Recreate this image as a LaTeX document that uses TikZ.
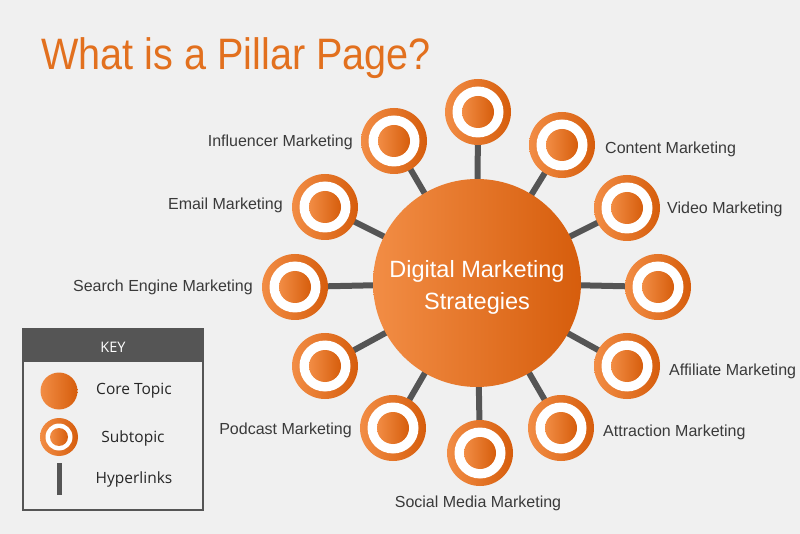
\documentclass[tikz,border=0pt]{standalone}
\usepackage{fontspec}
\setmainfont{Liberation Sans}
\newfontfamily\keyfont{Open Sans}
\usetikzlibrary{backgrounds}
\definecolor{bg}{HTML}{F0F0F0}
\definecolor{orL}{HTML}{F28D45}
\definecolor{orD}{HTML}{D65D0C}
\definecolor{orT}{HTML}{E2701E}
\definecolor{lnk}{HTML}{555555}
\definecolor{txt}{HTML}{3A3A3A}
\begin{document}
\begin{tikzpicture}[x=1pt,y=-1pt,
  core/.style={circle, minimum size=208pt, inner sep=0pt, left color=orL, right color=orD},
  coretext/.style={text=white, align=center, inner sep=0pt, yshift=-4pt,
    font=\fontsize{23.5}{32}\selectfont},
  sub/.style={circle, minimum size=66pt, inner sep=0pt, left color=orL, right color=orD,
    path picture={\fill[white] (path picture bounding box.center) circle (25.5pt);
      \shade[left color=orL,right color=orD] (path picture bounding box.center) circle (16pt);}},
  keysub/.style={circle, minimum size=38pt, inner sep=0pt, left color=orL, right color=orD,
    path picture={\fill[white] (path picture bounding box.center) circle (13.5pt);
      \shade[left color=orL,right color=orD] (path picture bounding box.center) circle (9pt);}},
  keycore/.style={circle, minimum size=37pt, inner sep=0pt, left color=orL, right color=orD},
  lbl/.style={inner sep=0pt, text=txt, font=\fontsize{16}{19}\selectfont},
  keylbl/.style={inner sep=0pt, text=black!85, font=\keyfont\fontsize{15.5}{18}\selectfont},
  link/.style={draw=lnk, line width=6pt},
]
\useasboundingbox (0,0) rectangle (800,534);
% title
\node[anchor=base west, inner sep=0pt, text=orT, font=\fontsize{44}{50}\selectfont] (title) at (41,70) {\scalebox{0.9}[1]{What is a Pillar Page?}};
% core
\node[core, label={[coretext]center:Digital Marketing\\Strategies}] (c) at (477,283) {};
% subtopics
\node[sub] (s1) at (478,112) {};
\node[sub] (s2) at (562,145) {};
\node[sub] (s3) at (627,208) {};
\node[sub] (s4) at (658,287) {};
\node[sub] (s5) at (627,366) {};
\node[sub] (s6) at (561,428) {};
\node[sub] (s7) at (480,453) {};
\node[sub] (s8) at (393,428) {};
\node[sub] (s9) at (325,366) {};
\node[sub] (s10) at (295,287) {};
\node[sub] (s11) at (325,207) {};
\node[sub] (s12) at (394,141) {};
\begin{scope}[on background layer]
\fill[bg] (0,0) rectangle (800,534);
\foreach \i in {1,...,12} \draw[link] (c.center) -- (s\i.center);
\end{scope}
% labels
\node[lbl, anchor=west] (l2) at (605,149) {Content Marketing};
\node[lbl, anchor=west] (l3) at (667,209) {Video Marketing};
\node[lbl, anchor=west] (l5) at (669,371) {Affiliate Marketing};
\node[lbl, anchor=west] (l6) at (603,432) {Attraction Marketing};
\node[lbl] (l7) at (478,503) {Social Media Marketing};
\node[lbl, anchor=east] (l8) at (352,430) {Podcast Marketing};
\node[lbl, anchor=east] (l10) at (253,287) {Search Engine Marketing};
\node[lbl, anchor=east] (l11) at (283,205) {Email Marketing};
\node[lbl, anchor=east] (l12) at (353,142) {Influencer Marketing};
% key
\draw[lnk, line width=1.5pt, fill=bg] (23,329) rectangle (203,510);
\fill[lnk] (23,329) rectangle (203,362);
\node[inner sep=0pt, text=white, font=\keyfont\fontsize{14.5}{17}\selectfont] (keyt) at (113,347) {KEY};
\node[keycore] (kc) at (59,391) {};
\node[keysub] (ks) at (59,437) {};
\coordinate (kh1) at (59,463);
\coordinate (kh2) at (59,495);
\draw[lnk, line width=5pt] (kh1) -- (kh2);
\node[keylbl] (kl1) at (134,391) {Core Topic};
\node[keylbl] (kl2) at (133,438) {Subtopic};
\node[keylbl] (kl3) at (134,479) {Hyperlinks};
\end{tikzpicture}
\end{document}
